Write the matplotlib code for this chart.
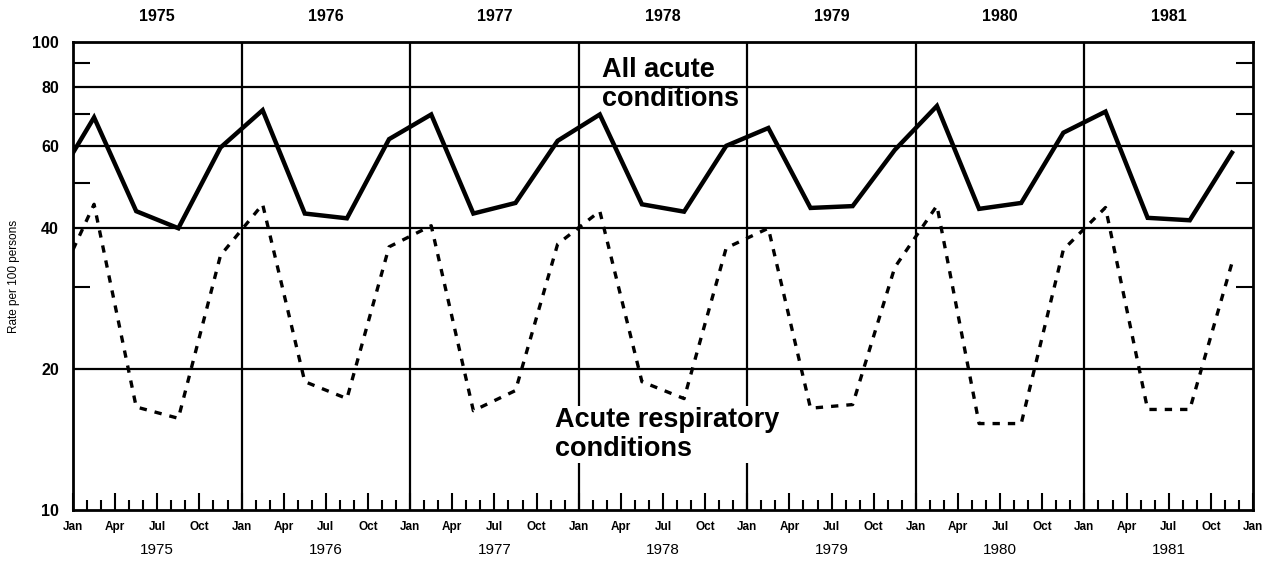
import matplotlib
matplotlib.use("Agg")
import matplotlib.pyplot as plt
import matplotlib.transforms as mtransforms
import numpy as np

plt.rcParams['font.family'] = ['Liberation Sans', 'DejaVu Sans']

# ---- data (rates per 100 persons, quarterly, plotted at mid-quarter) ----
years = [1975, 1976, 1977, 1978, 1979, 1980, 1981]
quarters = [1, 2, 3, 4]
start_all_acute = 58.0          # value where the line enters at Jan 1975
start_respiratory = 36.0
all_acute = [
    69.0, 43.5, 40.0, 59.5,     # 1975
    71.5, 43.0, 42.0, 62.0,     # 1976
    70.0, 43.0, 45.3, 61.5,     # 1977
    70.0, 45.0, 43.4, 60.0,     # 1978
    65.5, 44.2, 44.6, 58.8,     # 1979
    73.0, 44.0, 45.3, 64.0,     # 1980
    71.0, 42.1, 41.6, 58.0,     # 1981
]
respiratory = [
    45.0, 16.6, 15.7, 35.0,     # 1975
    45.0, 18.8, 17.3, 36.5,     # 1976
    40.5, 16.3, 18.0, 37.0,     # 1977
    43.5, 18.8, 17.3, 36.3,     # 1978
    40.0, 16.5, 16.8, 33.0,     # 1979
    44.7, 15.3, 15.3, 36.0,     # 1980
    44.3, 16.4, 16.4, 33.7,     # 1981
]
month_labels = ['Jan', 'Apr', 'Jul', 'Oct']
y_ticks = [10, 20, 40, 60, 80, 100]
y_minor = [30, 50, 70, 90]
grid_values = [20, 40, 60, 80]
label_all = 'All acute\nconditions'
label_resp = 'Acute respiratory\nconditions'
y_label = 'Rate per 100 persons'

# ---- positions ----
t_q = np.array([y + (q - 0.5) / 4 for y in years for q in quarters])
t_all = np.concatenate([[years[0]], t_q])
v_all = np.concatenate([[start_all_acute], all_acute])
v_resp = np.concatenate([[start_respiratory], respiratory])

W, H = 1271, 579
fig = plt.figure(figsize=(W / 100, H / 100), dpi=100)
ax = fig.add_axes([73 / W, (H - 510) / H, (1253 - 73) / W, (510 - 42) / H])

ax.set_yscale('log')
x0, x1 = years[0], years[-1] + 1
ax.set_xlim(x0, x1)
ax.set_ylim(10, 100)

# grid
for g in grid_values:
    ax.axhline(g, color='black', lw=1.6, zorder=1)
for yv in range(years[0] + 1, years[-1] + 1):
    ax.axvline(yv, color='black', lw=1.6, zorder=1)

# series
ax.plot(t_all, v_all, color='black', lw=3.2, solid_joinstyle='miter', zorder=3)
ax.plot(t_all, v_resp, color='black', lw=2.4, dashes=(2.2, 2.4), zorder=3)

# axes / spines
for s in ax.spines.values():
    s.set_linewidth(2.0)

ax.set_yticks(y_ticks)
ax.set_yticklabels([str(v) for v in y_ticks])
ax.set_yticks(y_minor, minor=True)
ax.yaxis.set_minor_formatter(matplotlib.ticker.NullFormatter())
ax.tick_params(axis='y', which='major', length=0, pad=10, labelsize=11.5)
ax.tick_params(axis='y', which='minor', length=12, width=1.5, direction='in',
               left=True, right=True)
for lab in ax.get_yticklabels():
    lab.set_fontweight('bold')

qt = np.arange(x0, x1 + 0.001, 0.25)
ax.set_xticks(qt)
ax.set_xticklabels([month_labels[i % 4] for i in range(len(qt))])
ax.set_xticks(np.arange(x0, x1 + 0.001, 1 / 12), minor=True)
ax.tick_params(axis='x', which='major', length=12, width=1.5, direction='in',
               pad=8, labelsize=8.5)
ax.tick_params(axis='x', which='minor', length=7.5, width=1.5, direction='in')
for lab in ax.get_xticklabels():
    lab.set_fontweight('bold')

ax.set_ylabel(y_label, fontsize=8.5)
ax.yaxis.set_label_coords(-0.045, 0.5)

# year labels top & bottom
trans = mtransforms.blended_transform_factory(ax.transData, ax.transAxes)
for yv in years:
    ax.text(yv + 0.5, 1.055, str(yv), transform=trans, ha='center', va='center',
            fontsize=11.5, fontweight='bold')
    ax.text(yv + 0.5, -0.085, str(yv), transform=trans, ha='center', va='center',
            fontsize=11)

# annotations
ax.text(1978.14, 81, label_all, ha='left', va='center', fontsize=19.5,
        fontweight='bold', linespacing=1.15, zorder=4)
ax.text(1977.86, 14.5, label_resp, ha='left', va='center', fontsize=19.5,
        fontweight='bold', linespacing=1.15, zorder=4,
        bbox=dict(facecolor='white', edgecolor='none', pad=1))

fig.savefig('out.png', dpi=100)
